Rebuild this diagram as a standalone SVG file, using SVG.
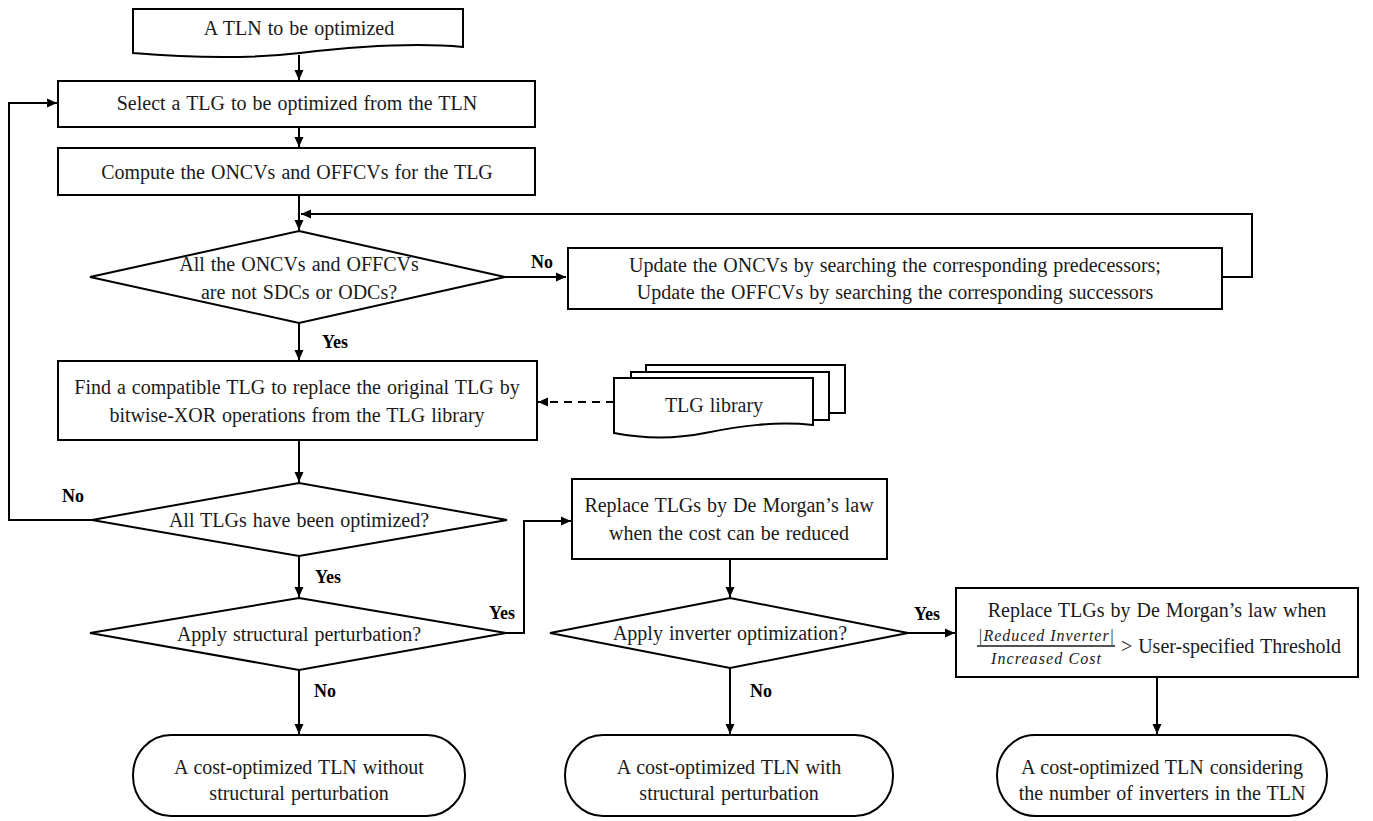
<svg xmlns="http://www.w3.org/2000/svg" width="1373" height="821" viewBox="0 0 1373 821">
<defs>
<marker id="ah" viewBox="0 0 10 10" refX="10" refY="5" markerWidth="10" markerHeight="10" markerUnits="userSpaceOnUse" orient="auto">
<path d="M0,0.5 L10,5 L0,9.5 Z" fill="#000"/>
</marker>
<style>
.s{fill:#fff;stroke:#000;stroke-width:2}
.t{font-family:"Liberation Serif","Times New Roman",serif;font-size:20px;fill:#1a1a1a;text-anchor:middle;word-spacing:1px}
.l{font-family:"Liberation Serif","Times New Roman",serif;font-size:18px;font-weight:bold;fill:#000;text-anchor:middle}
.m{font-family:"Liberation Serif","Cambria Math",serif;font-size:16px;font-style:italic;fill:#1a1a1a;text-anchor:middle}
.c{fill:none;stroke:#000;stroke-width:2}
.a{marker-end:url(#ah)}
.d{stroke-dasharray:8 6}
</style>
</defs>
<rect width="1373" height="821" fill="#fff"/>

<g id="connectors">
<path class="c a" d="M299,55 V80"/>
<path class="c a" d="M299,127 V147"/>
<path class="c a" d="M299,195 V230"/>
<path class="c a" d="M505,277 H566"/>
<path class="c a" d="M1222,277 H1252 V214 H301"/>
<path class="c a" d="M299,323 V360"/>
<path class="c a d" d="M614,402 H538"/>
<path class="c a" d="M299,440 V482"/>
<path class="c a" d="M92,520 H9 V103 H57"/>
<path class="c a" d="M299,556 V597"/>
<path class="c a" d="M506,633 H524 V521 H571"/>
<path class="c a" d="M299,670 V734"/>
<path class="c a" d="M730,559 V597"/>
<path class="c a" d="M908,633 H955"/>
<path class="c a" d="M730,668 V734"/>
<path class="c a" d="M1157,677 V734"/>
<text class="l" x="542" y="268">No</text>
<text class="l" x="335" y="348">Yes</text>
<text class="l" x="73" y="502">No</text>
<text class="l" x="328" y="583">Yes</text>
<text class="l" x="502" y="619">Yes</text>
<text class="l" x="325" y="697">No</text>
<text class="l" x="927" y="620">Yes</text>
<text class="l" x="761" y="697">No</text>
</g>

<g id="start">
<path class="s" d="M133,9 H463 V47 C420,43 360,46 300,53 C240,60 180,57 133,53 Z"/>
<text class="t" x="299" y="35">A TLN to be optimized</text>
</g>

<g id="select">
<rect class="s" x="58" y="81" width="477" height="46"/>
<text class="t" x="297" y="110">Select a TLG to be optimized from the TLN</text>
</g>

<g id="compute">
<rect class="s" x="58" y="148" width="477" height="47"/>
<text class="t" x="297" y="179">Compute the ONCVs and OFFCVs for the TLG</text>
</g>

<g id="check-dc">
<path class="s" d="M299,231 L505,277 L299,323 L90,277 Z"/>
<text class="t" x="299" y="271">All the ONCVs and OFFCVs</text>
<text class="t" x="299" y="299">are not SDCs or ODCs?</text>
</g>

<g id="update">
<rect class="s" x="568" y="248" width="654" height="61"/>
<text class="t" x="895" y="272">Update the ONCVs by searching the corresponding predecessors;</text>
<text class="t" x="895" y="299">Update the OFFCVs by searching the corresponding successors</text>
</g>

<g id="find">
<rect class="s" x="58" y="361" width="479" height="79"/>
<text class="t" x="297" y="394">Find a compatible TLG to replace the original TLG by</text>
<text class="t" x="297" y="422">bitwise-XOR operations from the TLG library</text>
</g>

<g id="library">
<rect class="s" x="646" y="365" width="199" height="48"/>
<rect class="s" x="631" y="372" width="198" height="48"/>
<path class="s" d="M614,378 H813 V425 C775,421 740,426 705,433 C670,440 640,438 614,433 Z"/>
<text class="t" x="714" y="412">TLG library</text>
</g>

<g id="check-all">
<path class="s" d="M299,483 L507,520 L299,556 L92,520 Z"/>
<text class="t" x="299" y="527">All TLGs have been optimized?</text>
</g>

<g id="check-struct">
<path class="s" d="M299,598 L506,633 L299,670 L90,633 Z"/>
<text class="t" x="299" y="641">Apply structural perturbation?</text>
</g>

<g id="demorgan">
<rect class="s" x="572" y="479" width="315" height="80"/>
<text class="t" x="729" y="512">Replace TLGs by De Morgan’s law</text>
<text class="t" x="729" y="540">when the cost can be reduced</text>
</g>

<g id="check-inv">
<path class="s" d="M730,598 L908,633 L730,668 L550,633 Z"/>
<text class="t" x="730" y="640">Apply inverter optimization?</text>
</g>

<g id="inverter">
<rect class="s" x="956" y="588" width="402" height="89"/>
<text class="t" x="1157" y="617">Replace TLGs by De Morgan’s law when</text>
<text class="m" x="1046" y="641" textLength="136" lengthAdjust="spacing">|Reduced Inverter|</text>
<line x1="977" y1="646" x2="1115" y2="646" stroke="#1a1a1a" stroke-width="1.3"/>
<text class="m" x="1046" y="664" textLength="110" lengthAdjust="spacing">Increased Cost</text>
<text class="t" x="1231" y="653">&gt; User-specified Threshold</text>
</g>

<g id="end-1">
<rect class="s" x="133" y="735" width="332" height="81" rx="38" ry="40"/>
<text class="t" x="299" y="774">A cost-optimized TLN without</text>
<text class="t" x="299" y="800">structural perturbation</text>
</g>

<g id="end-2">
<rect class="s" x="565" y="735" width="328" height="81" rx="38" ry="40"/>
<text class="t" x="729" y="774">A cost-optimized TLN with</text>
<text class="t" x="729" y="800">structural perturbation</text>
</g>

<g id="end-3">
<rect class="s" x="997" y="735" width="330" height="81" rx="38" ry="40"/>
<text class="t" x="1162" y="774">A cost-optimized TLN considering</text>
<text class="t" x="1162" y="800">the number of inverters in the TLN</text>
</g>
</svg>
